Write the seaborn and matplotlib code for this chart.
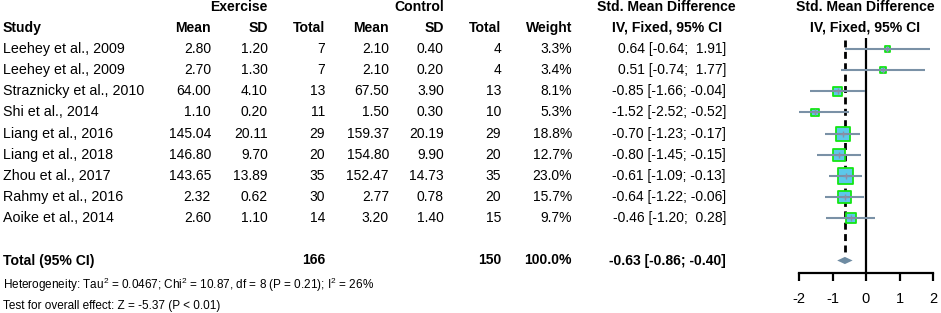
import numpy as np
import pandas as pd
import matplotlib
matplotlib.use('Agg')
import matplotlib.pyplot as plt
import seaborn as sns

studies = ['Leehey et al., 2009', 'Leehey et al., 2009', 'Straznicky et al., 2010',
           'Shi et al., 2014', 'Liang et al., 2016', 'Liang et al., 2018',
           'Zhou et al., 2017', 'Rahmy et al., 2016', 'Aoike et al., 2014']
exp_mean = [2.80, 2.70, 64.00, 1.10, 145.04, 146.80, 143.65, 2.32, 2.60]
exp_sd = [1.20, 1.30, 4.10, 0.20, 20.11, 9.70, 13.89, 0.62, 1.10]
exp_n = [7, 7, 13, 11, 29, 20, 35, 30, 14]
ctl_mean = [2.10, 2.10, 67.50, 1.50, 159.37, 154.80, 152.47, 2.77, 3.20]
ctl_sd = [0.40, 0.20, 3.90, 0.30, 20.19, 9.90, 14.73, 0.78, 1.40]
ctl_n = [4, 4, 13, 10, 29, 20, 35, 20, 15]
weight = [3.3, 3.4, 8.1, 5.3, 18.8, 12.7, 23.0, 15.7, 9.7]
smd = [0.64, 0.51, -0.85, -1.52, -0.70, -0.80, -0.61, -0.64, -0.46]
ci_lo = [-0.64, -0.74, -1.66, -2.52, -1.23, -1.45, -1.09, -1.22, -1.20]
ci_hi = [1.91, 1.77, -0.04, -0.52, -0.17, -0.15, -0.13, -0.06, 0.28]

total_exp, total_ctl = 166, 150
pooled, pooled_lo, pooled_hi = -0.63, -0.86, -0.40
xticks = [-2, -1, 0, 1, 2]

sns.set_style('white')
plt.rcParams['font.family'] = ['Liberation Sans', 'DejaVu Sans']
plt.rcParams['mathtext.fontset'] = 'custom'
plt.rcParams['mathtext.rm'] = 'Liberation Sans'
plt.rcParams['mathtext.it'] = 'Liberation Sans'

W, H = 941, 313
fig = plt.figure(figsize=(W / 100, H / 100), dpi=100)

# row geometry (pixels)
y0, step = 49, 21.15
top_r = (0 - y0) / step
bot_r = (H - y0) / step
axis_px = 273
axis_r = (axis_px - y0) / step

ax_t = fig.add_axes([0, 0, 1, 1])
ax_t.set_xlim(0, W)
ax_t.set_ylim(bot_r, top_r)
ax_t.axis('off')

fs = 10.0       # numbers
fs_name = 10.3  # study names
fs_bold = 10.1  # headers / totals
cols = [211, 268, 325, 389, 444, 501, 572]

def txt(x, r, s, ha='right', bold=False, size=None):
    if size is None:
        size = fs_bold if bold else fs
    ax_t.text(x, r, s, ha=ha, va='center', fontsize=size,
              fontweight='bold' if bold else 'normal', color='black')

# headers
txt(268, -2, 'Exercise', bold=True)
txt(444, -2, 'Control', bold=True)
txt(666, -2, 'Std. Mean Difference', ha='center', bold=True)
txt(865, -2, 'Std. Mean Difference', ha='center', bold=True)
txt(3, -1, 'Study', ha='left', bold=True)
for x, h in zip(cols, ['Mean', 'SD', 'Total', 'Mean', 'SD', 'Total', 'Weight']):
    txt(x, -1, h, bold=True)
txt(667, -1, 'IV, Fixed, 95% CI', ha='center', bold=True)
txt(865, -1, 'IV, Fixed, 95% CI', ha='center', bold=True)

def fmt_ci(e, lo, hi):
    hs = f'{hi:.2f}' if hi < 0 else f' {hi:.2f}'
    return f'{e:.2f} [{lo:.2f}; {hs}]'

for i in range(len(studies)):
    txt(3, i, studies[i], ha='left', size=fs_name)
    vals = [f'{exp_mean[i]:.2f}', f'{exp_sd[i]:.2f}', f'{exp_n[i]}',
            f'{ctl_mean[i]:.2f}', f'{ctl_sd[i]:.2f}', f'{ctl_n[i]}',
            f'{weight[i]:.1f}%']
    for x, v in zip(cols, vals):
        txt(x, i, v)
    txt(726, i, fmt_ci(smd[i], ci_lo[i], ci_hi[i]))

tr = len(studies) + 1
txt(3, tr, 'Total (95% CI)', ha='left', bold=True)
txt(325, tr, f'{total_exp}', bold=True)
txt(501, tr, f'{total_ctl}', bold=True)
txt(572, tr, f'{sum(weight):.1f}%', bold=True)
txt(726, tr, fmt_ci(pooled, pooled_lo, pooled_hi), bold=True, size=fs)

fs2 = 8.5
txt(3, (285 - y0) / step,
    r'Heterogeneity: Tau$^2$ = 0.0467; Chi$^2$ = 10.87, df = 8 (P = 0.21); I$^2$ = 26%',
    ha='left', size=fs2)
txt(3, (306 - y0) / step, 'Test for overall effect: Z = -5.37 (P < 0.01)', ha='left', size=fs2)

# forest axes
x_left, x_right = 799, 933
ax = fig.add_axes([x_left / W, (H - axis_px) / H, (x_right - x_left) / W, axis_px / H])
ax.set_xlim(-2, 2)
ax.set_ylim(axis_r, top_r)
for s in ['left', 'right', 'top']:
    ax.spines[s].set_visible(False)
ax.spines['bottom'].set_linewidth(1.6)
ax.spines['bottom'].set_color('black')
ax.set_yticks([])
ax.set_xticks(xticks)
ax.set_xticklabels([str(t) for t in xticks])
ax.tick_params(axis='x', direction='out', length=6, width=1.6, labelsize=10.5,
               pad=8, bottom=True, colors='black')
ax.patch.set_alpha(0)

ax.vlines(0, (38 - y0) / step, axis_r, color='black', lw=1.6, zorder=1)
ax.vlines(pooled, (40 - y0) / step, (254 - y0) / step, color='black', lw=2.0,
          linestyles=(0, (2.5, 1.6)), zorder=1)

df = pd.DataFrame({'row': np.arange(len(studies)), 'smd': smd, 'w': weight})
k = 5.4
sns.scatterplot(data=df, x='smd', y='row', size='w',
                sizes=(k * min(weight), k * max(weight)), marker='s',
                color='#5CC8EA', edgecolor='#14E614', linewidth=1.3,
                legend=False, ax=ax, zorder=2)
ax.hlines(df['row'], ci_lo, ci_hi, color='#7A91A6', lw=1.5, zorder=3)
ax.scatter(smd, df['row'], marker='+', s=20, color='#8A8FA8', linewidths=1.0, zorder=4)

dh = 0.17
ax.fill([pooled_lo, pooled, pooled_hi, pooled], [tr, tr - dh, tr, tr + dh],
        color='#6E8BA2', zorder=3, lw=0)
ax.set_xlabel('')
ax.set_ylabel('')

fig.savefig('out.png', dpi=100)
